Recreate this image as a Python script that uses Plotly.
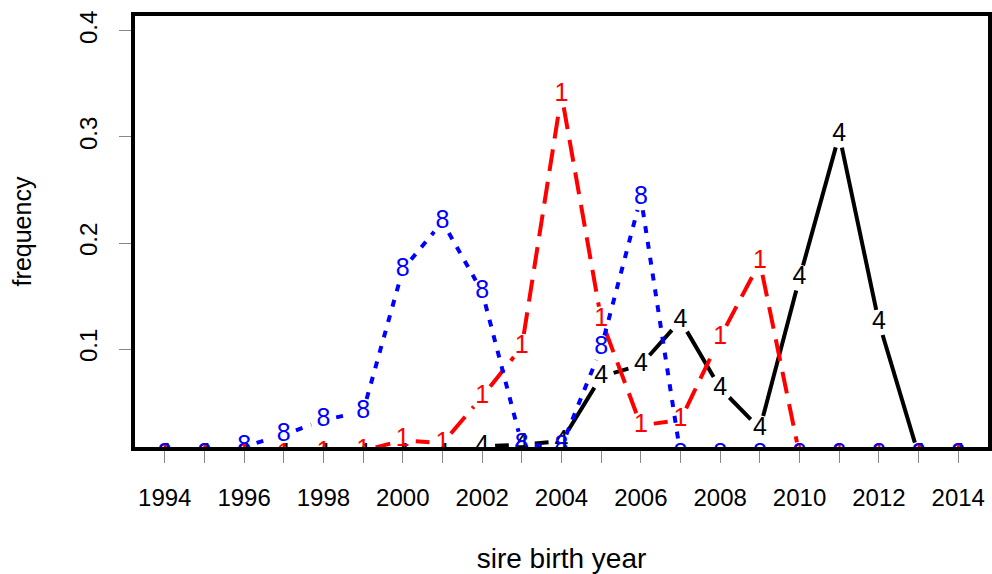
import math
import plotly.graph_objects as go

# ---- data ----
years = list(range(1994, 2015))
blue_8 = [0.0, 0.0, 0.008, 0.019, 0.033, 0.041, 0.175, 0.220, 0.154, 0.010, 0.008,
          0.101, 0.243, 0.0, 0.0, 0.0, 0.0, 0.0, 0.0, 0.0, 0.0]
red_1 = [0.0, 0.0, 0.0, 0.0, 0.002, 0.004, 0.014, 0.011, 0.055, 0.102, 0.340,
         0.128, 0.028, 0.033, 0.111, 0.182, 0.0, 0.0, 0.0, 0.0, 0.0]
black_4 = [0.0, 0.0, 0.0, 0.0, 0.0, 0.0, 0.0, 0.0, 0.008, 0.010, 0.013,
           0.074, 0.085, 0.127, 0.063, 0.025, 0.167, 0.302, 0.125, 0.0, 0.0]
x_tick_vals = list(range(1994, 2015))
x_tick_text = [str(v) if v % 2 == 0 else "" for v in x_tick_vals]
y_tick_vals = [0.1, 0.2, 0.3, 0.4]
y_tick_text = ["0.1", "0.2", "0.3", "0.4"]

# ---- layout geometry ----
W, H = 992, 574
ML, MR, MT, MB = 133, 2, 14, 125
XR = [1993.2, 2014.8]
YR = [0.0057, 0.416]
PW, PH = W - ML - MR, H - MT - MB
GAP = 13  # px gap around each symbol, like R type="b"


def gapped(xs, ys):
    sx = PW / (XR[1] - XR[0])
    sy = PH / (YR[1] - YR[0])
    ox, oy = [], []
    for i in range(len(xs) - 1):
        dx, dy = xs[i + 1] - xs[i], ys[i + 1] - ys[i]
        L = math.hypot(dx * sx, dy * sy)
        if L <= 2 * GAP:
            continue
        t = GAP / L
        ox += [xs[i] + dx * t, xs[i + 1] - dx * t, None]
        oy += [ys[i] + dy * t, ys[i + 1] - dy * t, None]
    return ox, oy


FONT = "Liberation Sans, Arial, Helvetica, sans-serif"
series = [
    (black_4, "4", "#000000", "solid"),
    (red_1, "1", "#FF0000", "22px,11px"),
    (blue_8, "8", "#0000FF", "7px,9px"),
]

fig = go.Figure()
for vals, sym, col, dash in series:
    lx, ly = gapped(years, vals)
    fig.add_trace(go.Scatter(x=lx, y=ly, mode="lines",
                             line=dict(color=col, width=4, dash=dash),
                             hoverinfo="skip", showlegend=False))
for vals, sym, col, dash in series:
    fig.add_trace(go.Scatter(x=years, y=vals, mode="text", text=[sym] * len(years),
                             textposition="middle center",
                             textfont=dict(family=FONT, size=25, color=col),
                             cliponaxis=True, showlegend=False))

fig.update_layout(
    width=W, height=H,
    margin=dict(l=ML, r=MR, t=MT, b=MB),
    paper_bgcolor="white", plot_bgcolor="white",
    font=dict(family=FONT, color="black"),
    showlegend=False,
    xaxis=dict(range=XR, tickmode="array", tickvals=x_tick_vals, ticktext=x_tick_text,
               ticks="outside", ticklen=13, tickwidth=1, tickcolor="#888888",
               showgrid=False, zeroline=False, showline=False,
               tickfont=dict(family=FONT, size=24, color="black"),
               ticklabelstandoff=14,
               title=dict(text="sire birth year", font=dict(family=FONT, size=28), standoff=42)),
    yaxis=dict(range=YR, tickmode="array", tickvals=y_tick_vals, ticktext=y_tick_text,
               ticks="outside", ticklen=13, tickwidth=1, tickcolor="#888888",
               tickangle=-90,
               showgrid=False, zeroline=False, showline=False,
               tickfont=dict(family=FONT, size=24, color="black"),
               ticklabelstandoff=12,
               title=dict(text="frequency", font=dict(family=FONT, size=25), standoff=36)),
    shapes=[dict(type="rect", xref="paper", yref="paper", x0=0, y0=0, x1=1, y1=1,
                 line=dict(color="black", width=4), layer="above")],
)

fig.write_html("out.html")
